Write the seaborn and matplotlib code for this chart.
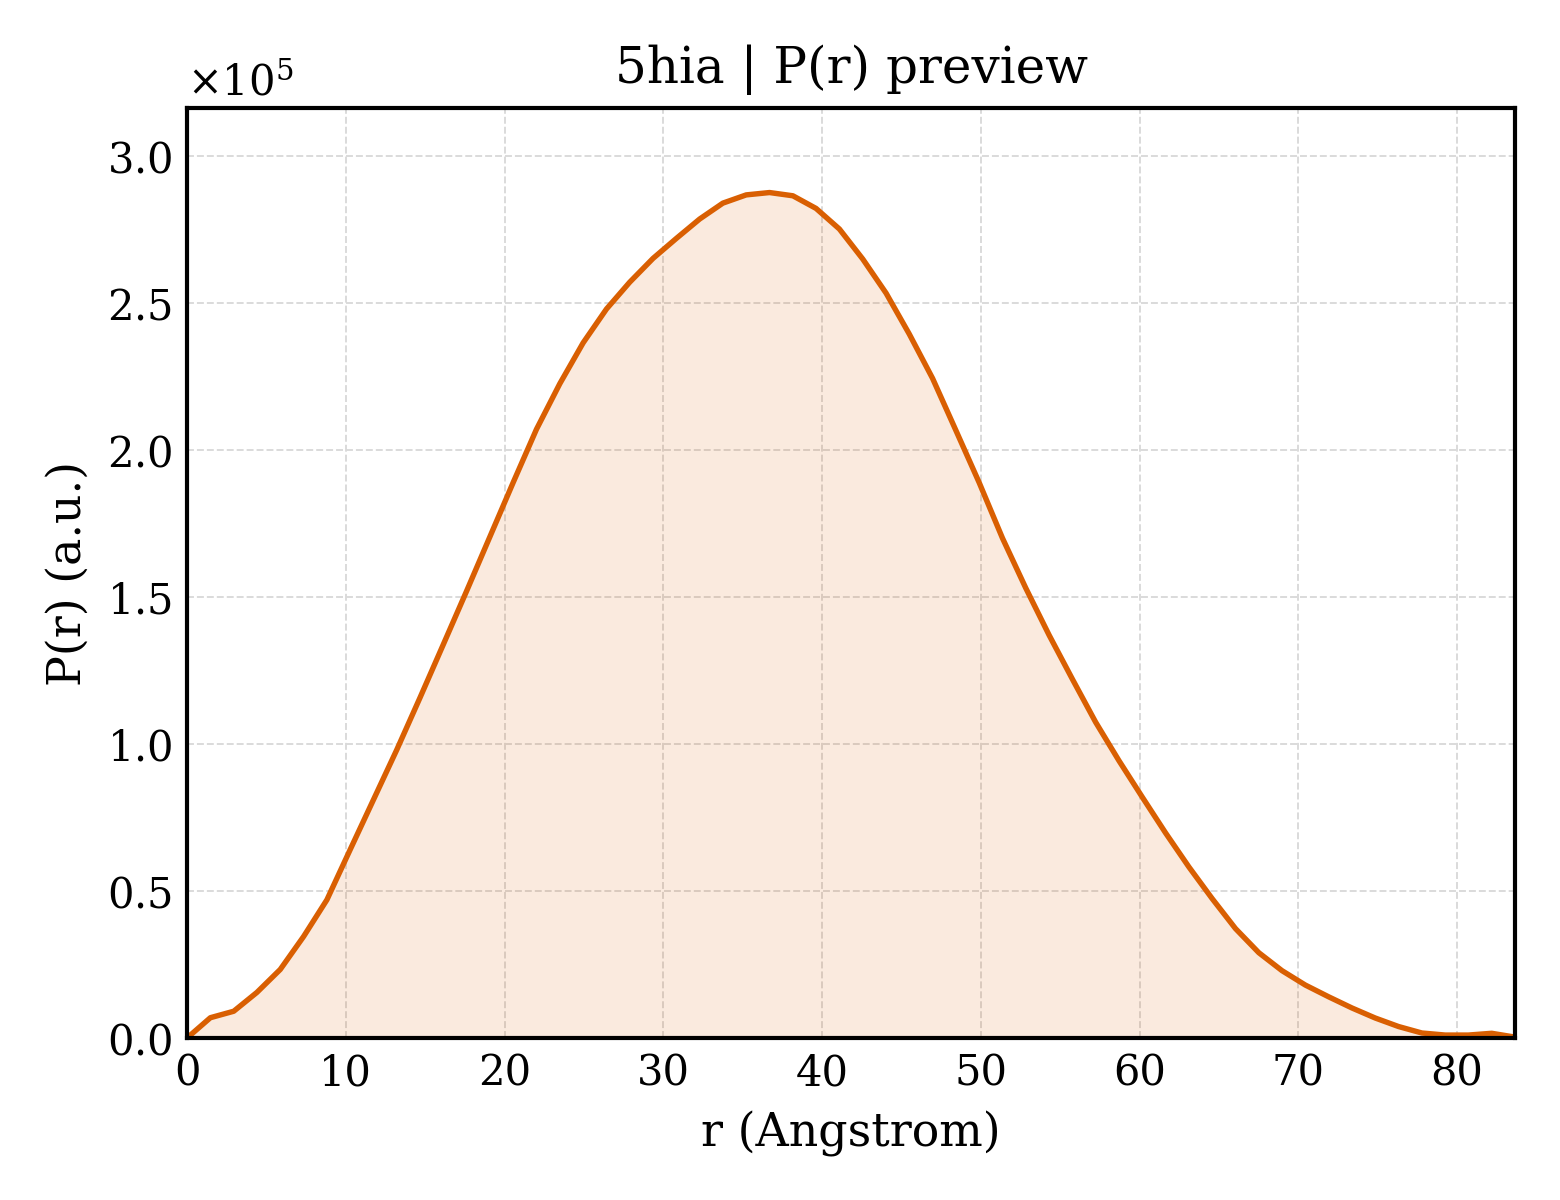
import matplotlib
matplotlib.use("Agg")
import matplotlib.pyplot as plt
import seaborn as sns
import pandas as pd
from matplotlib.ticker import ScalarFormatter, MultipleLocator

title = "5hia | P(r) preview"
xlabel = "r (Angstrom)"
ylabel = "P(r) (a.u.)"

r_values = [0.00, 1.47, 2.94, 4.40, 5.87, 7.34, 8.81, 10.27, 11.74, 13.21,
            14.68, 16.14, 17.61, 19.08, 20.55, 22.01, 23.48, 24.95, 26.42, 27.88,
            29.35, 30.82, 32.29, 33.75, 35.22, 36.69, 38.16, 39.62, 41.09, 42.56,
            44.03, 45.49, 46.96, 48.43, 49.90, 51.36, 52.83, 54.30, 55.77, 57.23,
            58.70, 60.17, 61.64, 63.10, 64.57, 66.04, 67.51, 68.97, 70.44, 71.91,
            73.38, 74.84, 76.31, 77.78, 79.25, 80.71, 82.18, 83.65]

p_values = [0, 6900, 9100, 15500, 23300, 34500, 47000, 64000, 81000, 98000,
            115800, 133800, 152000, 170500, 189000, 207000, 222500, 236400, 247900, 257000,
            265100, 271900, 278500, 283900, 286700, 287500, 286400, 282100, 275100, 264900,
            253300, 239400, 224300, 206600, 188800, 170000, 153000, 137000, 122000, 107400,
            94300, 81900, 69700, 58200, 47400, 37200, 29000, 22900, 18000, 14000,
            10200, 6800, 3900, 1700, 1000, 1000, 1600, 300]

line_color = "#D95F02"

sns.set_style("white")
plt.rcParams["font.family"] = ["DejaVu Serif"]
plt.rcParams["mathtext.fontset"] = "dejavuserif"
plt.rcParams["font.size"] = 10
plt.rcParams["text.color"] = "black"
plt.rcParams["axes.labelcolor"] = "black"
plt.rcParams["xtick.color"] = "black"
plt.rcParams["ytick.color"] = "black"

df = pd.DataFrame({"r": r_values, "p": p_values})

fig, ax = plt.subplots(figsize=(5.2, 4.0), dpi=300)
fig.subplots_adjust(left=0.1199, right=0.9712, bottom=0.135, top=0.91)

ax.fill_between(df["r"], df["p"], 0, color=line_color, alpha=0.13, linewidth=0)
sns.lineplot(data=df, x="r", y="p", ax=ax, color=line_color, linewidth=1.3)

ax.set_xlim(0, max(r_values))
ax.set_ylim(0, 1.1 * max(p_values))
ax.xaxis.set_major_locator(MultipleLocator(10))
ax.yaxis.set_major_locator(MultipleLocator(50000))

fmt = ScalarFormatter(useMathText=True)
fmt.set_powerlimits((0, 0))
ax.yaxis.set_major_formatter(fmt)
ax.yaxis.get_offset_text().set_fontsize(10)
ax.yaxis.get_offset_text().set_color("black")

ax.grid(True, linestyle="--", linewidth=0.45, color="0.85")
ax.set_axisbelow(True)

for s in ax.spines.values():
    s.set_visible(True)
    s.set_linewidth(1.0)
    s.set_color("black")

ax.tick_params(direction="in", length=4.5, width=1.0, labelsize=10,
               top=False, right=False, colors="black")

ax.set_title(title, fontsize=12, color="black")
ax.set_xlabel(xlabel, fontsize=11, color="black")
ax.set_ylabel(ylabel, fontsize=11, color="black")

fig.savefig("out.png", dpi=300)
